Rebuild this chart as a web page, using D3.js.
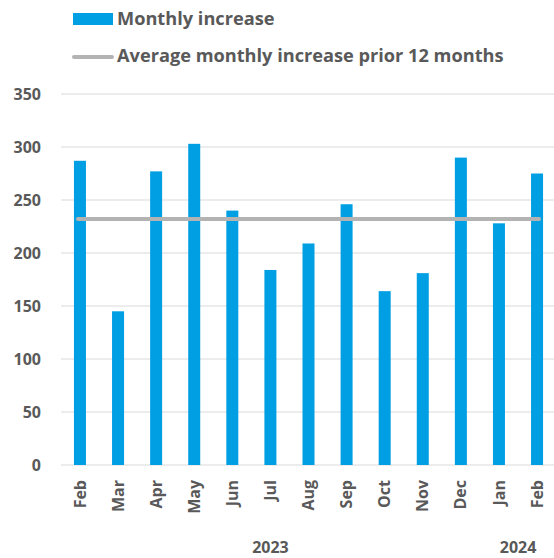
<!DOCTYPE html>
<html>
<head>
<meta charset="utf-8">
<script src="https://cdn.jsdelivr.net/npm/d3@7"></script>
<style>
  body { margin: 0; background: #fff; }
  svg text { font-family: "Open Sans", sans-serif; font-weight: bold; fill: #595959; }
</style>
</head>
<body>
<svg id="chart" width="554" height="558"></svg>
<script>
const months = ["Feb", "Mar", "Apr", "May", "Jun", "Jul", "Aug", "Sep", "Oct", "Nov", "Dec", "Jan", "Feb"];
const monthlyIncrease = [287, 145, 277, 303, 240, 184, 209, 246, 164, 181, 290, 228, 275];
const averagePrior12 = 232;
const yTicks = [0, 50, 100, 150, 200, 250, 300, 350];
const yearLabels = [{ label: "2023", at: 5 }, { label: "2024", at: 12 }];

const margin = { top: 94, right: 0, bottom: 93, left: 61 },
      width = 556 - margin.left - margin.right,
      height = 558 - margin.top - margin.bottom;

const svg = d3.select("#chart");
const g = svg.append("g").attr("transform", `translate(${margin.left},${margin.top})`);

const x = d3.scaleBand()
    .domain(d3.range(months.length))
    .range([0, width])
    .paddingInner(0.685)
    .paddingOuter(0.34);

const y = d3.scaleLinear().domain([0, 350]).range([height, 0]);

// grid
g.selectAll(".grid")
    .data(yTicks)
    .enter().append("line")
    .attr("x1", 0)
    .attr("x2", width)
    .attr("y1", d => y(d))
    .attr("y2", d => y(d))
    .attr("stroke", "#d9d9d9")
    .attr("stroke-width", 1);

// y axis labels
g.selectAll(".ytick")
    .data(yTicks)
    .enter().append("text")
    .attr("x", -20)
    .attr("y", d => y(d))
    .attr("dy", "0.35em")
    .attr("text-anchor", "end")
    .style("font-size", "16px")
    .text(d => d);

// bars
g.selectAll(".bar")
    .data(monthlyIncrease)
    .enter().append("rect")
    .attr("x", (d, i) => x(i))
    .attr("width", x.bandwidth())
    .attr("y", d => y(d))
    .attr("height", d => y(0) - y(d))
    .attr("fill", "#009fe3");

// average line
const cx = i => x(i) + x.bandwidth() / 2;
g.append("path")
    .attr("d", d3.line()([[cx(0) - 2, y(averagePrior12)], [cx(months.length - 1) + 2, y(averagePrior12)]]))
    .attr("stroke", "#b3b3b3")
    .attr("stroke-width", 4)
    .attr("stroke-linecap", "round");

// month labels
g.selectAll(".xtick")
    .data(months)
    .enter().append("text")
    .attr("transform", (d, i) => `translate(${cx(i)},${height + 15}) rotate(-90)`)
    .attr("dy", "0.35em")
    .attr("text-anchor", "end")
    .style("font-size", "16px")
    .text(d => d);

// year labels
g.selectAll(".year")
    .data(yearLabels)
    .enter().append("text")
    .attr("x", d => d.at === 5 ? (cx(5) + cx(6)) / 2 - 19 : cx(d.at) - 19)
    .attr("y", height + 88)
    .attr("text-anchor", "middle")
    .style("font-size", "16px")
    .text(d => d.label);

// legend
const legend = svg.append("g");
legend.append("rect")
    .attr("x", 73).attr("y", 13)
    .attr("width", 40).attr("height", 12)
    .attr("fill", "#009fe3");
legend.append("text")
    .attr("x", 117).attr("y", 25)
    .style("font-size", "18.2px")
    .text("Monthly increase");
legend.append("line")
    .attr("x1", 74).attr("x2", 112)
    .attr("y1", 57).attr("y2", 57)
    .attr("stroke", "#b3b3b3")
    .attr("stroke-width", 4)
    .attr("stroke-linecap", "round");
legend.append("text")
    .attr("x", 117).attr("y", 62)
    .style("font-size", "18.2px")
    .text("Average monthly increase prior 12 months");
</script>
</body>
</html>
